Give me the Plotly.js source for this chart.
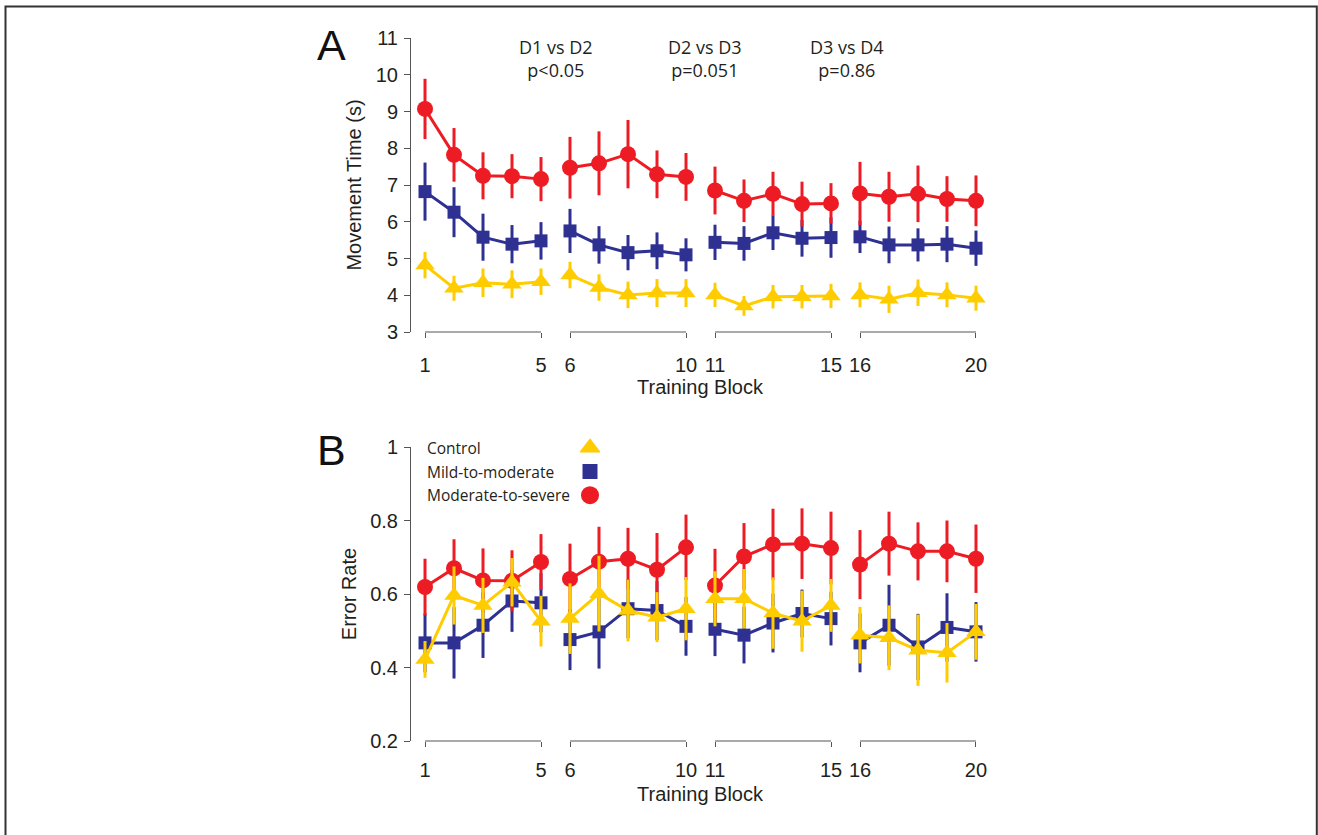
<!DOCTYPE html>
<html>
<head>
<meta charset="utf-8">
<script src="https://cdn.plot.ly/plotly-3.0.1.min.js"></script>
<style>
  html, body { margin: 0; padding: 0; background: #fff; }
  #chart { width: 1318px; height: 835px; }
</style>
</head>
<body>
<div id="chart"></div>
<script>
// ---------------- DATA ----------------
const blocks = [1,2,3,4,5,6,7,8,9,10,11,12,13,14,15,16,17,18,19,20];
const tickBlocks = [1,5,6,10,11,15,16,20];
const groupStarts = [1,6,11,16];
const groupEnds = [5,10,15,20];

const seriesNames = ['Control','Mild-to-moderate','Moderate-to-severe'];

// Panel A: Movement Time (s)
const mtControl    = [4.82,4.19,4.34,4.30,4.37, 4.55,4.21,4.01,4.06,4.06, 4.01,3.71,3.96,3.96,3.98, 4.01,3.89,4.07,4.01,3.92];
const mtControlErr = [0.36,0.34,0.39,0.38,0.36, 0.36,0.36,0.36,0.38,0.38, 0.33,0.27,0.32,0.32,0.33, 0.34,0.37,0.36,0.34,0.34];
const mtMild       = [6.82,6.26,5.58,5.39,5.48, 5.75,5.37,5.16,5.21,5.10, 5.44,5.41,5.70,5.55,5.57, 5.59,5.37,5.37,5.39,5.28];
const mtMildErr    = [0.79,0.68,0.64,0.52,0.51, 0.60,0.51,0.48,0.50,0.45, 0.48,0.47,0.47,0.50,0.55, 0.44,0.50,0.45,0.49,0.48];
const mtSevere     = [9.07,7.82,7.25,7.24,7.16, 7.47,7.59,7.84,7.29,7.22, 6.85,6.57,6.76,6.48,6.50, 6.77,6.68,6.76,6.62,6.57];
const mtSevereErr  = [0.82,0.73,0.64,0.60,0.60, 0.84,0.87,0.93,0.65,0.65, 0.65,0.58,0.60,0.61,0.55, 0.86,0.68,0.77,0.62,0.69];

// Panel B: Error Rate
const erControl    = [0.422,0.596,0.569,0.632,0.526, 0.533,0.601,0.555,0.537,0.560, 0.587,0.587,0.548,0.526,0.569, 0.488,0.481,0.447,0.440,0.497];
const erControlErr = [0.050,0.079,0.075,0.066,0.069, 0.096,0.103,0.084,0.068,0.086, 0.075,0.081,0.097,0.083,0.072, 0.077,0.088,0.097,0.081,0.076];
const erMild       = [0.467,0.467,0.515,0.581,0.576, 0.476,0.497,0.560,0.555,0.512, 0.504,0.488,0.521,0.547,0.533, 0.467,0.515,0.456,0.509,0.497];
const erMildErr    = [0.080,0.097,0.089,0.084,0.080, 0.083,0.100,0.080,0.080,0.080, 0.073,0.077,0.080,0.065,0.073, 0.080,0.110,0.090,0.093,0.081];
const erSevere     = [0.619,0.670,0.637,0.636,0.687, 0.641,0.688,0.696,0.666,0.727, 0.623,0.702,0.735,0.737,0.725, 0.680,0.737,0.716,0.716,0.696];
const erSevereErr  = [0.077,0.079,0.087,0.083,0.076, 0.096,0.095,0.084,0.100,0.089, 0.100,0.091,0.097,0.096,0.099, 0.094,0.087,0.079,0.084,0.093];

const comparisons = ['D1 vs D2<br>p<0.05', 'D2 vs D3<br>p=0.051', 'D3 vs D4<br>p=0.86'];
const comparisonX = [5.5, 10.65, 15.55];

// ---------------- STYLE ----------------
const COLORS = { control: '#FFCC00', mild: '#2E3192', severe: '#ED1C24' };
const STYLE = {
  control: { color: COLORS.control, symbol: 'triangle-up', size: 17 },
  mild:    { color: COLORS.mild,    symbol: 'square',      size: 13 },
  severe:  { color: COLORS.severe,  symbol: 'circle',      size: 16 }
};
const AX_FONT = 'Liberation Sans, Arial, Helvetica, sans-serif';
const TXT_FONT = 'Open Sans, Noto Sans, sans-serif';
const INK = '#231f20';
const AXC = '#555555';

// plot geometry (pixels) used for layout-only placements
const L = 411, R = 990, T = 38, B = 741, W = R - L, H = B - T;
const px2x = px => (px - L) / W;
const px2y = py => (B - py) / H;

function groupTraces(xa, ya, vals, errs, st) {
  const out = [];
  groupStarts.forEach((s, gi) => {
    const e = groupEnds[gi];
    const idx = blocks.map((b, i) => i).filter(i => blocks[i] >= s && blocks[i] <= e);
    out.push({
      type: 'scatter', mode: 'lines+markers',
      x: idx.map(i => blocks[i]), y: idx.map(i => vals[i]),
      xaxis: xa, yaxis: ya, showlegend: false, hoverinfo: 'skip',
      line: { color: st.color, width: 3 },
      marker: { color: st.color, symbol: st.symbol, size: st.size, opacity: 1, line: { width: 0 } },
      error_y: { type: 'data', array: idx.map(i => errs[i]), visible: true,
                 color: st.color, thickness: 3, width: 0 }
    });
  });
  return out;
}

const traces = [].concat(
  groupTraces('x', 'y', mtMild, mtMildErr, STYLE.mild),
  groupTraces('x', 'y', mtSevere, mtSevereErr, STYLE.severe),
  groupTraces('x', 'y', mtControl, mtControlErr, STYLE.control),
  groupTraces('x2', 'y2', erMild, erMildErr, STYLE.mild),
  groupTraces('x2', 'y2', erSevere, erSevereErr, STYLE.severe),
  groupTraces('x2', 'y2', erControl, erControlErr, STYLE.control)
);

// legend key markers (on an overlay axis, one row per series)
const legendKeys = [STYLE.control, STYLE.mild, STYLE.severe];
traces.push({
  type: 'scatter', mode: 'markers', xaxis: 'x3', yaxis: 'y3',
  x: seriesNames.map(() => 0), y: seriesNames.map((n, i) => i),
  showlegend: false, hoverinfo: 'skip',
  marker: { color: legendKeys.map(k => k.color), symbol: legendKeys.map(k => k.symbol),
            size: legendKeys.map(k => k.size + 2), opacity: 1, line: { width: 0 } }
});

function xAxis(anchor, standoff) {
  return {
    anchor: anchor, domain: [0, 1], range: [0.517, 20.483],
    tickmode: 'array', tickvals: tickBlocks, ticktext: tickBlocks.map(String),
    ticks: 'outside', ticklen: 5, tickcolor: AXC, tickwidth: 1,
    showline: false, showgrid: false, zeroline: false,
    tickfont: { family: AX_FONT, size: 20, color: INK },
    ticklabelstandoff: standoff
  };
}
function yAxis(anchor, domain, range, dtick, title) {
  return {
    anchor: anchor, domain: domain, range: range, dtick: dtick, tick0: range[0],
    ticks: 'outside', ticklen: 6, tickcolor: AXC, tickwidth: 1,
    showline: true, linecolor: AXC, linewidth: 1,
    showgrid: false, zeroline: false,
    tickfont: { family: AX_FONT, size: 20, color: INK },
    ticklabelstandoff: 2,
    title: { text: title, font: { family: AX_FONT, size: 20, color: INK }, standoff: 8 }
  };
}

const shapes = [];
['x', 'x2'].forEach((xr, k) => {
  const yr = k === 0 ? 'y domain' : 'y2 domain';
  groupStarts.forEach((s, gi) => {
    shapes.push({ type: 'line', xref: xr, yref: yr, x0: s, x1: groupEnds[gi], y0: 0, y1: 0,
                  line: { color: AXC, width: 1 } });
  });
});
// outer frame
shapes.push({ type: 'rect', xref: 'paper', yref: 'paper',
  x0: px2x(5.5), x1: px2x(1316.8), y0: px2y(850), y1: px2y(6.5),
  line: { color: '#333', width: 2 }, fillcolor: 'rgba(0,0,0,0)' });

const annotations = [];
comparisons.forEach((t, i) => {
  annotations.push({ xref: 'x', yref: 'y', x: comparisonX[i], y: 10.45, text: t,
    showarrow: false, xanchor: 'center', yanchor: 'middle', align: 'center',
    font: { family: TXT_FONT, size: 18, color: INK } });
});
// x-axis titles
[387, 794].forEach(py => {
  annotations.push({ xref: 'paper', yref: 'paper', x: 0.5, y: px2y(py), text: 'Training Block',
    showarrow: false, xanchor: 'center', yanchor: 'middle',
    font: { family: AX_FONT, size: 20, color: INK } });
});
annotations.push({ xref: 'paper', yref: 'paper', x: px2x(331), y: px2y(45), text: 'A',
  showarrow: false, xanchor: 'center', yanchor: 'middle', font: { family: AX_FONT, size: 43, color: '#111' } });
annotations.push({ xref: 'paper', yref: 'paper', x: px2x(331), y: px2y(450), text: 'B',
  showarrow: false, xanchor: 'center', yanchor: 'middle', font: { family: AX_FONT, size: 43, color: '#111' } });
seriesNames.forEach((n, i) => {
  annotations.push({ xref: 'paper', yref: 'y3', x: px2x(425), y: i, text: n, showarrow: false,
    xanchor: 'left', yanchor: 'middle', font: { family: TXT_FONT, size: 15.5, color: INK } });
});

const layout = {
  width: 1318, height: 835,
  margin: { l: L, r: 1318 - R, t: T, b: 835 - B, pad: 0 },
  paper_bgcolor: '#fff', plot_bgcolor: 'rgba(0,0,0,0)',
  showlegend: false, hovermode: false,
  xaxis: xAxis('y', 10),
  yaxis: yAxis('x', [px2y(332), 1], [3, 11], 1, 'Movement Time (s)'),
  xaxis2: xAxis('y2', 6),
  yaxis2: yAxis('x2', [0, px2y(447)], [0.2, 1], 0.2, 'Error Rate'),
  xaxis3: { domain: [px2x(580), px2x(600)], range: [-1, 1], visible: false, anchor: 'y3', fixedrange: true },
  yaxis3: { domain: [px2y(507), px2y(436)], range: [2.5, -0.5], visible: false, anchor: 'x3', fixedrange: true },
  shapes: shapes,
  annotations: annotations
};

Plotly.newPlot('chart', traces, layout, { staticPlot: true, displayModeBar: false });
</script>
</body>
</html>
